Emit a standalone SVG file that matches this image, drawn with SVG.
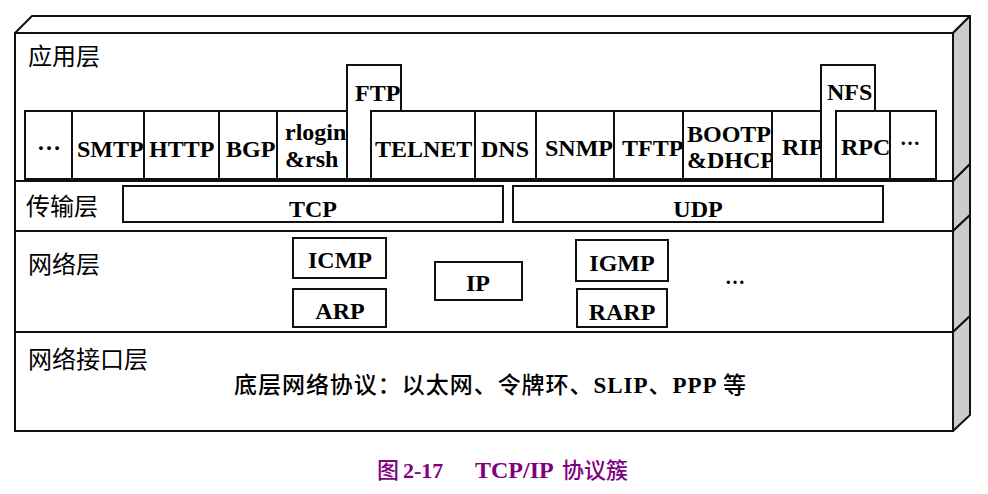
<svg xmlns="http://www.w3.org/2000/svg" width="988" height="494" viewBox="0 0 988 494">
<style>
.ln{fill:none;stroke:#111;stroke-width:2}
.bx{fill:#fff;stroke:#111;stroke-width:2}
.side{fill:#cccccc;stroke:#111;stroke-width:2;stroke-linejoin:round}
.top{fill:#fff;stroke:#111;stroke-width:2;stroke-linejoin:round}
.t{font-family:"Liberation Serif","Times New Roman",serif;font-weight:bold;font-size:24px;fill:#000}
.cn{font-family:"Noto Sans CJK SC","Noto Sans",sans-serif;font-size:24px;fill:#000}
.mix{font-family:"Liberation Serif","Noto Sans CJK SC",serif;font-weight:bold;font-size:23px;fill:#000}
.cap{font-family:"Liberation Serif","Noto Sans CJK SC",serif;font-weight:bold;font-size:22px;fill:#800080}
</style>
<rect width="988" height="494" fill="#fff"/>
<g id="frame">
<polygon class="top" points="15,33 32,16 970,16 953,33"/>
<polygon class="side" points="953,33 970,16 970,164 953,181"/>
<polygon class="side" points="953,181 970,164 970,215 953,231"/>
<polygon class="side" points="953,231 970,215 970,316 953,332"/>
<polygon class="side" points="953,332 970,316 970,415 953,431"/>
<rect class="ln" x="15" y="33" width="938" height="398"/>
<line class="ln" x1="15" y1="181" x2="953" y2="181"/>
<line class="ln" x1="15" y1="231" x2="953" y2="231"/>
<line class="ln" x1="15" y1="332" x2="953" y2="332"/>
</g>
<g id="application-layer">
<text class="cn" x="28" y="65">应用层</text>
</g>
<g id="app-dots1"><rect class="bx" x="25" y="111" width="47" height="68"/><text class="t" x="37" y="150">…</text></g>
<g id="smtp"><rect class="bx" x="72" y="111" width="72" height="68"/><text class="t" x="77" y="157">SMTP</text></g>
<g id="http"><rect class="bx" x="144" y="111" width="75" height="68"/><text class="t" x="149" y="157">HTTP</text></g>
<g id="bgp"><rect class="bx" x="219" y="111" width="58" height="68"/><text class="t" x="226" y="157">BGP</text></g>
<g id="rlogin"><rect class="bx" x="277" y="111" width="70" height="68"/><text class="t" x="285" y="140">rlogin</text><text class="t" x="285" y="167">&amp;rsh</text></g>
<g id="ftp"><rect class="bx" x="347" y="65" width="54" height="114"/><text class="t" x="355" y="101">FTP</text></g>
<g id="telnet"><rect class="bx" x="371" y="111" width="104" height="68"/><text class="t" x="375" y="157">TELNET</text></g>
<g id="dns"><rect class="bx" x="475" y="111" width="61" height="68"/><text class="t" x="481" y="157">DNS</text></g>
<g id="snmp"><rect class="bx" x="536" y="111" width="78" height="68"/><text class="t" x="545" y="156">SNMP</text></g>
<g id="tftp"><rect class="bx" x="614" y="111" width="69" height="68"/><text class="t" x="622" y="156">TFTP</text></g>
<g id="bootp"><rect class="bx" x="683" y="111" width="89" height="68"/><text class="t" x="687" y="142">BOOTP</text><text class="t" x="687" y="168">&amp;DHCP</text></g>
<g id="rip"><rect class="bx" x="772" y="111" width="49" height="68"/><text class="t" x="782" y="155">RIP</text></g>
<g id="nfs"><rect class="bx" x="821" y="65" width="54" height="114"/><text class="t" x="827" y="100">NFS</text></g>
<g id="rpc"><rect class="bx" x="836" y="111" width="54" height="68"/><text class="t" x="841" y="155">RPC</text></g>
<g id="app-dots2"><rect class="bx" x="890" y="111" width="46" height="68"/><text class="t" x="900" y="145" style="font-size:20px">…</text></g>
<g id="transport-layer"><text class="cn" x="26" y="215">传输层</text></g>
<g id="tcp"><rect class="bx" x="123" y="186" width="380" height="36"/><text class="t" x="313" y="217" text-anchor="middle">TCP</text></g>
<g id="udp"><rect class="bx" x="513" y="186" width="370" height="36"/><text class="t" x="698" y="217" text-anchor="middle">UDP</text></g>
<g id="network-layer"><text class="cn" x="28" y="273">网络层</text></g>
<g id="icmp"><rect class="bx" x="293" y="238" width="93" height="40"/><text class="t" x="340" y="268" text-anchor="middle">ICMP</text></g>
<g id="arp"><rect class="bx" x="293" y="289" width="93" height="38"/><text class="t" x="340" y="319" text-anchor="middle">ARP</text></g>
<g id="ip"><rect class="bx" x="435" y="262" width="87" height="38"/><text class="t" x="478" y="291" text-anchor="middle">IP</text></g>
<g id="igmp"><rect class="bx" x="576" y="240" width="92" height="41"/><text class="t" x="622" y="271" text-anchor="middle">IGMP</text></g>
<g id="rarp"><rect class="bx" x="577" y="289" width="90" height="38"/><text class="t" x="622" y="320" text-anchor="middle">RARP</text></g>
<g id="net-dots"><text class="t" x="725" y="284" style="font-size:20px">…</text></g>
<g id="interface-layer">
<text class="cn" x="28" y="368">网络接口层</text>
<text class="mix" x="234" y="393" textLength="512" lengthAdjust="spacing"><tspan style="font-family:'Noto Sans CJK SC',sans-serif;font-weight:500">底层网络协议：以太网、令牌环、</tspan>SLIP<tspan style="font-family:'Noto Sans CJK SC',sans-serif;font-weight:500">、</tspan>PPP <tspan style="font-family:'Noto Sans CJK SC',sans-serif;font-weight:500">等</tspan></text>
</g>
<g id="caption">
<text class="cap" y="478"><tspan x="377" style="font-family:'Noto Sans CJK SC',sans-serif;font-weight:500">图</tspan><tspan x="403">2-17</tspan><tspan x="475" style="font-size:24px">TCP/IP</tspan><tspan x="562" style="font-family:'Noto Sans CJK SC',sans-serif;font-weight:500">协议簇</tspan></text>
</g>
<g id="connectors"></g>
</svg>
